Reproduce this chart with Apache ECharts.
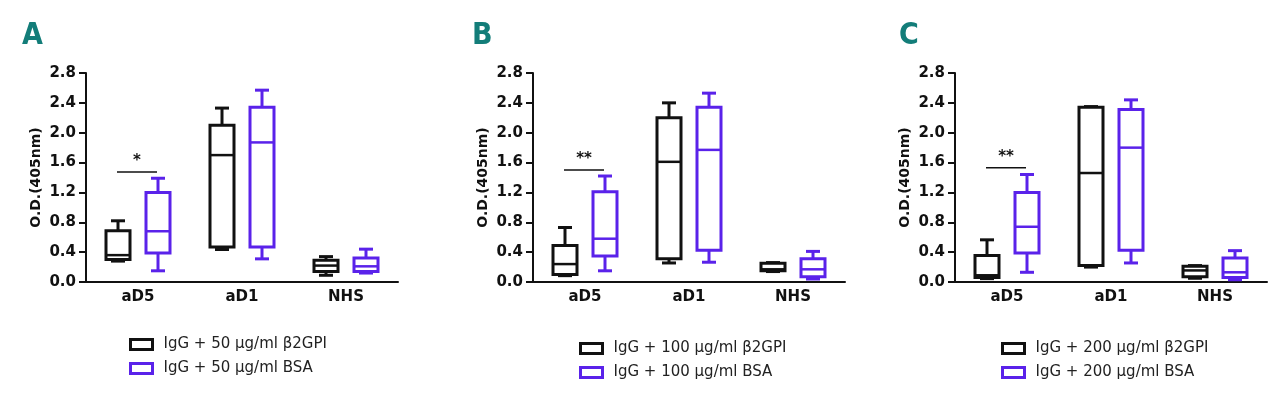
<!DOCTYPE html>
<html>
<head>
<meta charset="utf-8">
<script src="https://cdn.jsdelivr.net/npm/echarts@6/dist/echarts.min.js"></script>
<style>
html,body{margin:0;padding:0;background:#fff;}
#chart{width:1280px;height:395px;}
</style>
</head>
<body>
<div id="chart"></div>
<script>
// ---- data ----
const categories = ['aD5', 'aD1', 'NHS'];
const panelLetters = ['A', 'B', 'C'];
const yTicks = [0, 0.4, 0.8, 1.2, 1.6, 2.0, 2.4, 2.8];
// each box: [min, Q1, median, Q3, max] per category
const panelA_b2gpi = [[0.28, 0.30, 0.36, 0.685, 0.82], [0.435, 0.47, 1.70, 2.10, 2.33], [0.09, 0.14, 0.22, 0.29, 0.34]];
const panelA_bsa   = [[0.15, 0.39, 0.68, 1.20, 1.39], [0.31, 0.47, 1.87, 2.34, 2.57], [0.12, 0.14, 0.21, 0.32, 0.44]];
const panelB_b2gpi = [[0.085, 0.10, 0.24, 0.49, 0.73], [0.255, 0.31, 1.61, 2.20, 2.40], [0.14, 0.15, 0.17, 0.25, 0.26]];
const panelB_bsa   = [[0.15, 0.35, 0.58, 1.21, 1.42], [0.265, 0.425, 1.77, 2.34, 2.53], [0.04, 0.07, 0.17, 0.31, 0.41]];
const panelC_b2gpi = [[0.045, 0.06, 0.09, 0.355, 0.565], [0.20, 0.22, 1.46, 2.34, 2.35], [0.05, 0.07, 0.155, 0.21, 0.22]];
const panelC_bsa   = [[0.13, 0.39, 0.74, 1.20, 1.44], [0.255, 0.425, 1.80, 2.31, 2.44], [0.03, 0.06, 0.13, 0.32, 0.42]];
const legendB2gpi = ['IgG + 50 μg/ml β2GPI', 'IgG + 100 μg/ml β2GPI', 'IgG + 200 μg/ml β2GPI'];
const legendBsa   = ['IgG + 50 μg/ml BSA', 'IgG + 100 μg/ml BSA', 'IgG + 200 μg/ml BSA'];
// significance bracket over aD5: [categoryIndex, y value, label]
const significance = [[0, 1.475, '*'], [0, 1.50, '**'], [0, 1.53, '**']];
const yAxisTitle = 'O.D.(405nm)';

// ---- layout ----
const b2gpiData = [panelA_b2gpi, panelB_b2gpi, panelC_b2gpi];
const bsaData = [panelA_bsa, panelB_bsa, panelC_bsa];
const gridLefts = [86, 533, 955];
const letterLefts = [22, 472, 899];
const legendLefts = [129, 579, 1001];
const legendTops = [337, 341, 341];
const BLACK = '#111111';
const PURPLE = '#5a22ea';
const FONT = 'DejaVu Sans';

function boxRenderer(offset, color) {
  return function (params, api) {
    const cat = api.value(0);
    const c = v => api.coord([cat, v]);
    const x = c(api.value(1))[0] + offset;
    const yMin = c(api.value(1))[1];
    const yQ1 = c(api.value(2))[1];
    const yMed = c(api.value(3))[1];
    const yQ3 = c(api.value(4))[1];
    const yMax = c(api.value(5))[1];
    const hw = 12, cw = 7;
    const st = { stroke: color, lineWidth: 3, fill: null, lineCap: 'butt' };
    return {
      type: 'group',
      children: [
        { type: 'line', shape: { x1: x, y1: yMax, x2: x, y2: yQ3 }, style: st },
        { type: 'line', shape: { x1: x, y1: yQ1, x2: x, y2: yMin }, style: st },
        { type: 'line', shape: { x1: x - cw, y1: yMax, x2: x + cw, y2: yMax }, style: st },
        { type: 'line', shape: { x1: x - cw, y1: yMin, x2: x + cw, y2: yMin }, style: st },
        { type: 'rect', shape: { x: x - hw, y: yQ3, width: hw * 2, height: yQ1 - yQ3 }, style: { stroke: color, lineWidth: 3, fill: '#fff' } },
        { type: 'line', shape: { x1: x - hw, y1: yMed, x2: x + hw, y2: yMed }, style: { stroke: color, lineWidth: 2.5 } }
      ]
    };
  };
}

function sigRenderer(params, api) {
  const p = api.coord([api.value(0), api.value(1)]);
  const y = p[1];
  return {
    type: 'group',
    children: [
      { type: 'line', shape: { x1: p[0] - 21, y1: y, x2: p[0] + 19, y2: y }, style: { stroke: BLACK, lineWidth: 1.5 } },
      { type: 'text', style: { text: api.value(2), x: p[0] - 1, y: y - 3, align: 'center', verticalAlign: 'bottom', fill: BLACK, font: 'bold 15px "' + FONT + '"' } }
    ]
  };
}

const option = {
  animation: false,
  backgroundColor: '#fff',
  title: panelLetters.map((t, i) => ({
    text: t, left: letterLefts[i], top: 21, padding: 0,
    textStyle: { fontSize: 30, fontWeight: 'bold', fontFamily: "'Liberation Sans Narrow', 'DejaVu Sans Condensed', 'Roboto Condensed', 'Liberation Sans', sans-serif", color: '#137d79' }
  })),
  grid: gridLefts.map(l => ({ left: l, top: 73, width: 312, height: 209 })),
  legend: panelLetters.map((t, i) => ({
    orient: 'vertical', left: legendLefts[i], top: legendTops[i], padding: 0,
    itemWidth: 22, itemHeight: 10, itemGap: 9,
    textStyle: { fontFamily: FONT, fontSize: 15, color: '#222', padding: [0, 0, 0, 6] },
    data: [
      { name: legendB2gpi[i], icon: 'rect', itemStyle: { color: '#fff', borderColor: BLACK, borderWidth: 3 } },
      { name: legendBsa[i], icon: 'rect', itemStyle: { color: '#fff', borderColor: PURPLE, borderWidth: 3 } }
    ]
  })),
  xAxis: panelLetters.map((t, i) => ({
    type: 'category', gridIndex: i, data: categories, boundaryGap: true,
    axisLine: { lineStyle: { color: BLACK, width: 2 } },
    axisTick: { alignWithLabel: true, length: 6, lineStyle: { width: 2, color: BLACK } },
    axisLabel: { fontFamily: FONT, fontWeight: 'bold', fontSize: 15, color: BLACK, margin: 8 },
    splitLine: { show: false }
  })),
  yAxis: panelLetters.map((t, i) => ({
    type: 'value', gridIndex: i, min: yTicks[0], max: yTicks[yTicks.length - 1], interval: 0.4,
    name: yAxisTitle, nameLocation: 'middle', nameRotate: 90, nameGap: 43,
    nameTextStyle: { fontFamily: FONT, fontWeight: 'bold', fontSize: 14, color: BLACK },
    axisLine: { show: true, lineStyle: { color: BLACK, width: 2 } },
    axisTick: { show: true, length: 7, lineStyle: { width: 2, color: BLACK } },
    axisLabel: { fontFamily: FONT, fontWeight: 'bold', fontSize: 15, color: BLACK, margin: 10, formatter: v => v.toFixed(1) },
    splitLine: { show: false }
  })),
  series: []
};

panelLetters.forEach((t, i) => {
  option.series.push({
    type: 'custom', name: legendB2gpi[i], xAxisIndex: i, yAxisIndex: i,
    itemStyle: { color: BLACK },
    renderItem: boxRenderer(-20, BLACK),
    encode: { x: 0, y: [1, 2, 3, 4, 5] },
    data: b2gpiData[i].map((b, k) => [k].concat(b))
  });
  option.series.push({
    type: 'custom', name: legendBsa[i], xAxisIndex: i, yAxisIndex: i,
    itemStyle: { color: PURPLE },
    renderItem: boxRenderer(20, PURPLE),
    encode: { x: 0, y: [1, 2, 3, 4, 5] },
    data: bsaData[i].map((b, k) => [k].concat(b))
  });
  option.series.push({
    type: 'custom', name: 'sig' + i, xAxisIndex: i, yAxisIndex: i,
    renderItem: sigRenderer,
    encode: { x: 0, y: 1 },
    data: [significance[i]]
  });
});

const chart = echarts.init(document.getElementById('chart'), null, { renderer: 'canvas' });
chart.setOption(option);
</script>
</body>
</html>
